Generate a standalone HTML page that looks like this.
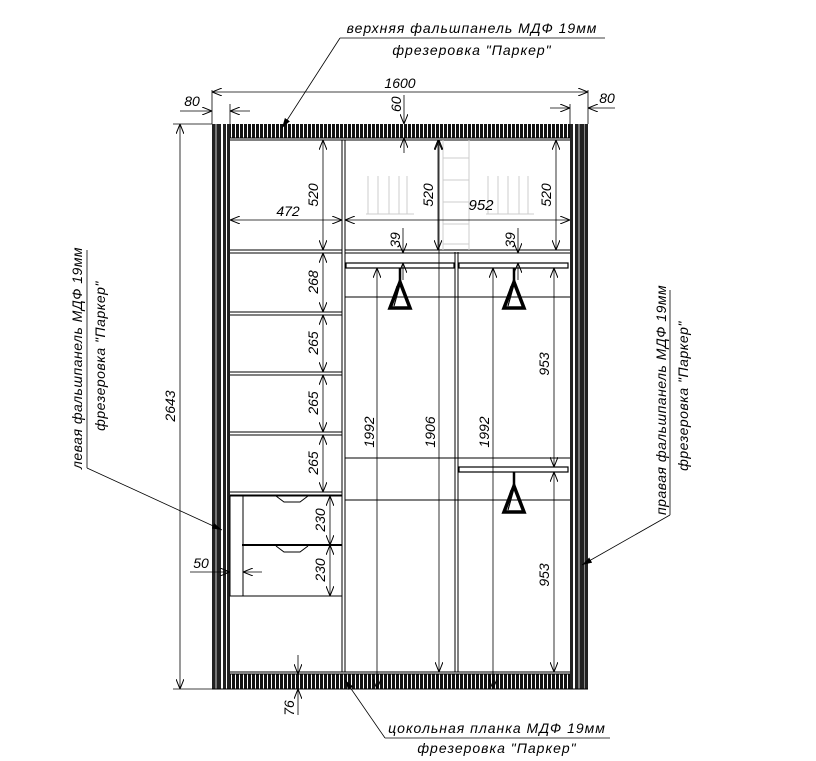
<!DOCTYPE html>
<html><head><meta charset="utf-8"><style>
html,body{margin:0;padding:0;background:#fff;}
svg{display:block;}
text{font-family:"Liberation Sans","DejaVu Sans",sans-serif;font-style:italic;fill:#000;}
</style></head><body>
<svg width="816" height="761" viewBox="0 0 816 761" xmlns="http://www.w3.org/2000/svg">
<defs>
<pattern id="h" width="4" height="10" patternUnits="userSpaceOnUse">
<rect width="4" height="10" fill="#fff"/><rect width="3" height="10" fill="#111"/>
</pattern>
<marker id="a" markerWidth="10" markerHeight="8" refX="10" refY="4" orient="auto-start-reverse" markerUnits="userSpaceOnUse">
<path d="M0,0 L10,4 L0,8" fill="none" stroke="#000" stroke-width="1"/>
</marker>
<marker id="af" markerWidth="10" markerHeight="8" refX="10" refY="4" orient="auto" markerUnits="userSpaceOnUse">
<path d="M0,1 L10,4 L0,7 z" fill="#000"/>
</marker>
<g id="hg">
<line x1="0" y1="0" x2="0" y2="14" stroke="#000" stroke-width="2.5"/>
<path d="M0,14 L-10,40 L10,40 Z" fill="none" stroke="#000" stroke-width="3.5"/>
<path d="M-3,18 L-9,38 M-1,20 L-6,38" stroke="#000" stroke-width="1.2"/>
</g>
</defs>
<g fill="none" stroke="#000" stroke-width="1">
<rect x="212" y="124" width="18" height="565" fill="#222" stroke="none"/>
<rect x="215" y="124" width="2" height="565" fill="#777" stroke="none"/>
<rect x="221" y="124" width="2" height="565" fill="#fff" stroke="none"/>
<rect x="226" y="124" width="1" height="565" fill="#fff" stroke="none"/>
<rect x="570" y="124" width="18" height="565" fill="#222" stroke="none"/>
<rect x="573" y="124" width="2" height="565" fill="#fff" stroke="none"/>
<rect x="578" y="124" width="2" height="565" fill="#777" stroke="none"/>
<rect x="584" y="124" width="1" height="565" fill="#888" stroke="none"/>
<rect x="230" y="124" width="340" height="14" fill="url(#h)" stroke="none"/>
<line x1="230" y1="138" x2="570" y2="138"/><line x1="230" y1="140" x2="570" y2="140"/>
<rect x="230" y="674" width="340" height="15" fill="url(#h)" stroke="none"/>
<line x1="230" y1="672" x2="570" y2="672"/><line x1="230" y1="674" x2="570" y2="674"/>
<line x1="212" y1="689" x2="588" y2="689"/>
<line x1="342" y1="140" x2="342" y2="672"/><line x1="345" y1="140" x2="345" y2="672"/>
<line x1="455" y1="252" x2="455" y2="672"/><line x1="458" y1="252" x2="458" y2="672"/>
<line x1="230" y1="250" x2="342" y2="250"/><line x1="230" y1="253" x2="342" y2="253"/>
<line x1="230" y1="312" x2="342" y2="312"/><line x1="230" y1="315" x2="342" y2="315"/>
<line x1="230" y1="372" x2="342" y2="372"/><line x1="230" y1="375" x2="342" y2="375"/>
<line x1="230" y1="432" x2="342" y2="432"/><line x1="230" y1="435" x2="342" y2="435"/>
<line x1="230" y1="492" x2="342" y2="492"/><line x1="230" y1="495" x2="342" y2="495"/>
<rect x="243" y="496" width="99" height="100"/>
<line x1="242" y1="545" x2="342" y2="545" stroke-width="2"/>
<line x1="230" y1="596" x2="243" y2="596"/>
<rect x="230" y="496" width="13" height="100"/>
<path d="M276,496 L284,502 L300,502 L308,496"/>
<path d="M276,546 L284,552 L300,552 L308,546"/>
<line x1="345" y1="250" x2="570" y2="250"/><line x1="345" y1="253" x2="570" y2="253"/>
<rect x="346" y="263" width="108" height="5" stroke-width="1.2"/>
<rect x="459" y="263" width="109" height="5" stroke-width="1.2"/>
<rect x="459" y="467" width="109" height="5" stroke-width="1.2"/>
<line x1="345" y1="297" x2="570" y2="297"/>
<line x1="345" y1="458" x2="570" y2="458"/>
<line x1="345" y1="500" x2="570" y2="500"/>
</g>
<g stroke="#ccc" fill="none">
<path d="M368,176 V214 M378,176 V214 M389,176 V214 M399,176 V214 M407,176 V214 M366,214 H414"/>
<path d="M488,176 V214 M498,176 V214 M508,176 V214 M519,176 V214 M528,176 V214 M486,214 H534"/>
<path d="M443,140 V250 M469,140 V250 M443,158 H469 M443,180 H469 M443,202 H469 M443,224 H469 M443,244 H469"/>
</g>
<use href="#hg" x="400" y="268"/>
<use href="#hg" x="514" y="268"/>
<use href="#hg" x="514" y="472"/>
<g stroke="#000" stroke-width="0.8" fill="none">
<line x1="212" y1="90" x2="212" y2="124"/><line x1="588" y1="90" x2="588" y2="124"/>
<line x1="212" y1="92" x2="588" y2="92" marker-start="url(#a)" marker-end="url(#a)"/>
<line x1="230" y1="104" x2="230" y2="124"/><line x1="570" y1="104" x2="570" y2="124"/>
<line x1="180" y1="111" x2="212" y2="111" marker-end="url(#a)"/><line x1="250" y1="111" x2="230" y2="111" marker-end="url(#a)"/>
<line x1="550" y1="108" x2="570" y2="108" marker-end="url(#a)"/><line x1="615" y1="108" x2="588" y2="108" marker-end="url(#a)"/>
<line x1="404" y1="95" x2="404" y2="124" marker-end="url(#a)"/><line x1="404" y1="153" x2="404" y2="138" marker-end="url(#a)"/>
<line x1="173" y1="124" x2="212" y2="124"/><line x1="173" y1="689" x2="212" y2="689"/>
<line x1="180" y1="124" x2="180" y2="689" marker-start="url(#a)" marker-end="url(#a)"/>
<line x1="323" y1="140" x2="323" y2="250" marker-start="url(#a)" marker-end="url(#a)"/>
<line x1="438" y1="140" x2="438" y2="250" marker-start="url(#a)" marker-end="url(#a)"/>
<line x1="556" y1="140" x2="556" y2="250" marker-start="url(#a)" marker-end="url(#a)"/>
<line x1="230" y1="220" x2="342" y2="220" marker-start="url(#a)" marker-end="url(#a)"/>
<line x1="345" y1="220" x2="570" y2="220" marker-start="url(#a)" marker-end="url(#a)"/>
<line x1="323" y1="253" x2="323" y2="312" marker-start="url(#a)" marker-end="url(#a)"/>
<line x1="323" y1="315" x2="323" y2="372" marker-start="url(#a)" marker-end="url(#a)"/>
<line x1="323" y1="375" x2="323" y2="432" marker-start="url(#a)" marker-end="url(#a)"/>
<line x1="323" y1="435" x2="323" y2="492" marker-start="url(#a)" marker-end="url(#a)"/>
<line x1="330" y1="496" x2="330" y2="545" marker-start="url(#a)" marker-end="url(#a)"/>
<line x1="330" y1="545" x2="330" y2="596" marker-start="url(#a)" marker-end="url(#a)"/>
<line x1="403" y1="228" x2="403" y2="253" marker-end="url(#a)"/><line x1="403" y1="280" x2="403" y2="263" marker-end="url(#a)"/>
<line x1="518" y1="228" x2="518" y2="253" marker-end="url(#a)"/><line x1="518" y1="280" x2="518" y2="263" marker-end="url(#a)"/>
<line x1="377" y1="268" x2="377" y2="689" marker-start="url(#a)" marker-end="url(#a)"/>
<line x1="439" y1="140" x2="439" y2="672" marker-start="url(#a)" marker-end="url(#a)"/>
<line x1="493" y1="268" x2="493" y2="689" marker-start="url(#a)" marker-end="url(#a)"/>
<line x1="554" y1="268" x2="554" y2="467" marker-start="url(#a)" marker-end="url(#a)"/>
<line x1="554" y1="472" x2="554" y2="672" marker-start="url(#a)" marker-end="url(#a)"/>
<line x1="190" y1="572" x2="230" y2="572" marker-end="url(#a)"/><line x1="262" y1="572" x2="243" y2="572" marker-end="url(#a)"/>
<line x1="298" y1="655" x2="298" y2="674" marker-end="url(#a)"/><line x1="298" y1="715" x2="298" y2="689" marker-end="url(#a)"/>
<line x1="340" y1="38" x2="605" y2="38"/><line x1="340" y1="38" x2="282" y2="128" marker-end="url(#af)"/>
<line x1="385" y1="738" x2="610" y2="738"/><line x1="385" y1="738" x2="345" y2="680" marker-end="url(#af)"/>
<line x1="87" y1="250" x2="87" y2="468"/><line x1="87" y1="468" x2="222" y2="530" marker-end="url(#af)"/>
<line x1="670" y1="290" x2="670" y2="515"/><line x1="670" y1="515" x2="582" y2="565" marker-end="url(#af)"/>
</g>
<g font-size="14">
<text x="472" y="33" text-anchor="middle" letter-spacing="1">верхняя фальшпанель МДФ 19мм</text>
<text x="472" y="55" text-anchor="middle" letter-spacing="1">фрезеровка "Паркер"</text>
<text x="497" y="733" text-anchor="middle" letter-spacing="1">цокольная планка МДФ 19мм</text>
<text x="497" y="753" text-anchor="middle" letter-spacing="1">фрезеровка "Паркер"</text>
<text transform="translate(82,358) rotate(-90)" text-anchor="middle" letter-spacing="0.5">левая фальшпанель МДФ 19мм</text>
<text transform="translate(105,356) rotate(-90)" text-anchor="middle" letter-spacing="0.5">фрезеровка "Паркер"</text>
<text transform="translate(666,400) rotate(-90)" text-anchor="middle" letter-spacing="0.5">правая фальшпанель МДФ 19мм</text>
<text transform="translate(688,396) rotate(-90)" text-anchor="middle" letter-spacing="0.5">фрезеровка "Паркер"</text>
<text x="400" y="88" text-anchor="middle">1600</text>
<text x="192" y="106" text-anchor="middle">80</text>
<text x="607" y="103" text-anchor="middle">80</text>
<text transform="translate(401,112) rotate(-90)">60</text>
<text transform="translate(175,406) rotate(-90)" text-anchor="middle">2643</text>
<text x="288" y="216" text-anchor="middle">472</text>
<text x="481" y="210" text-anchor="middle" font-size="15">952</text>
<text transform="translate(318,195) rotate(-90)" text-anchor="middle">520</text>
<text transform="translate(433,195) rotate(-90)" text-anchor="middle">520</text>
<text transform="translate(551,195) rotate(-90)" text-anchor="middle">520</text>
<text transform="translate(400,240) rotate(-90)" text-anchor="middle">39</text>
<text transform="translate(515,240) rotate(-90)" text-anchor="middle">39</text>
<text transform="translate(318,282) rotate(-90)" text-anchor="middle">268</text>
<text transform="translate(318,343) rotate(-90)" text-anchor="middle">265</text>
<text transform="translate(318,403) rotate(-90)" text-anchor="middle">265</text>
<text transform="translate(318,463) rotate(-90)" text-anchor="middle">265</text>
<text transform="translate(325,520) rotate(-90)" text-anchor="middle">230</text>
<text transform="translate(325,570) rotate(-90)" text-anchor="middle">230</text>
<text transform="translate(374,432) rotate(-90)" text-anchor="middle">1992</text>
<text transform="translate(435,432) rotate(-90)" text-anchor="middle">1906</text>
<text transform="translate(489,432) rotate(-90)" text-anchor="middle">1992</text>
<text transform="translate(549,364) rotate(-90)" text-anchor="middle">953</text>
<text transform="translate(549,575) rotate(-90)" text-anchor="middle">953</text>
<text x="201" y="568" text-anchor="middle">50</text>
<text transform="translate(294,708) rotate(-90)" text-anchor="middle">76</text>
</g>
</svg>
</body></html>
